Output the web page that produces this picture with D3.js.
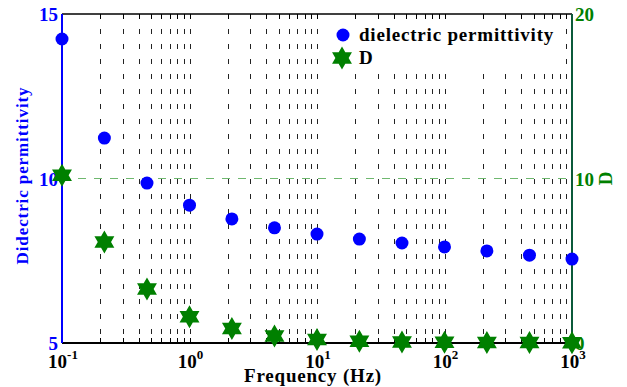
<!DOCTYPE html>
<html>
<head>
<meta charset="utf-8">
<script src="https://cdn.jsdelivr.net/npm/d3@7"></script>
<style>
  body { margin: 0; background: #fff; }
</style>
</head>
<body>
<div id="chart"></div>
<script>
// data
const freq = [0.1, 0.215, 0.464, 1, 2.15, 4.64, 10, 21.5, 46.4, 100, 215, 464, 1000];
const permittivity = [14.24, 11.23, 9.86, 9.19, 8.77, 8.5, 8.31, 8.16, 8.04, 7.92, 7.8, 7.67, 7.55];
const dValues = [10.2, 6.14, 3.28, 1.6, 0.88, 0.43, 0.22, 0.1, 0.06, 0.04, 0.03, 0.03, 0.02];
const xTickExps = [-1, 0, 1, 2, 3];
const leftTicks = [5, 10, 15];
const rightTicks = [0, 10, 20];

const width = 627, height = 387;
const margin = { top: 14, right: 55, bottom: 44, left: 62 };
const innerW = width - margin.left - margin.right;
const innerH = height - margin.top - margin.bottom;

const blue = "#0000ff", green = "#008000";

const svg = d3.select("#chart").append("svg")
  .attr("width", width)
  .attr("height", height)
  .attr("font-family", "'Liberation Serif', 'Times New Roman', serif")
  .attr("font-weight", "bold");

const g = svg.append("g")
  .attr("transform", `translate(${margin.left}, ${margin.top})`);

// scales
const x = d3.scaleLog().domain([0.1, 1000]).range([0, innerW]);
const yLeft = d3.scaleLinear().domain([5, 15]).range([innerH, 0]);
const yRight = d3.scaleLinear().domain([0, 20]).range([innerH, 0]);

// minor/major positions on log axis
const gridVals = [];
for (let e = -1; e < 3; e++) {
  for (let m = 1; m <= 9; m++) {
    const v = m * Math.pow(10, e);
    if (v > 0.1) gridVals.push(v);
  }
}

// vertical dashed grid
g.append("g").selectAll("line")
  .data(gridVals)
  .join("line")
  .attr("x1", d => Math.round(x(d)) + 0.5)
  .attr("x2", d => Math.round(x(d)) + 0.5)
  .attr("y1", 0)
  .attr("y2", innerH)
  .attr("stroke", "#222")
  .attr("stroke-width", 1)
  .attr("stroke-dasharray", "5,10");

// horizontal dashed grid at D = 10
g.append("line")
  .attr("x1", 0).attr("x2", innerW)
  .attr("y1", yRight(10)).attr("y2", yRight(10))
  .attr("stroke", "#6fb86f")
  .attr("stroke-width", 1.2)
  .attr("stroke-dasharray", "8,8");

// inward ticks on top and bottom
g.append("g").selectAll("line")
  .data(gridVals)
  .join("line")
  .attr("x1", d => Math.round(x(d)) + 0.5)
  .attr("x2", d => Math.round(x(d)) + 0.5)
  .attr("y1", innerH)
  .attr("y2", innerH - 5)
  .attr("stroke", "#000");
g.append("g").selectAll("line")
  .data(gridVals)
  .join("line")
  .attr("x1", d => Math.round(x(d)) + 0.5)
  .attr("x2", d => Math.round(x(d)) + 0.5)
  .attr("y1", 0)
  .attr("y2", 5)
  .attr("stroke", "#000");

// legend box (covers grid)
const legend = g.append("g").attr("transform", "translate(268, 5)");
legend.append("rect")
  .attr("width", 233).attr("height", 53)
  .attr("fill", "#fff");

// frame
g.append("line").attr("x1", 0).attr("x2", innerW).attr("y1", 0).attr("y2", 0)
  .attr("stroke", "#000").attr("stroke-width", 1.5);
g.append("line").attr("x1", 0).attr("x2", innerW).attr("y1", innerH).attr("y2", innerH)
  .attr("stroke", "#000").attr("stroke-width", 2);
g.append("line").attr("x1", 0).attr("x2", 0).attr("y1", 0).attr("y2", innerH)
  .attr("stroke", blue).attr("stroke-width", 2);
g.append("line").attr("x1", innerW).attr("x2", innerW).attr("y1", 0).attr("y2", innerH)
  .attr("stroke", "#0b5a3a").attr("stroke-width", 2);

// left tick labels
g.append("g").selectAll("text")
  .data(leftTicks)
  .join("text")
  .attr("x", -4)
  .attr("y", d => yLeft(d) + 7)
  .attr("text-anchor", "end")
  .attr("font-size", 19)
  .attr("fill", blue)
  .text(d => d);

// right tick labels
g.append("g").selectAll("text")
  .data(rightTicks)
  .join("text")
  .attr("x", innerW + 3)
  .attr("y", d => yRight(d) + 7)
  .attr("text-anchor", "start")
  .attr("font-size", 19)
  .attr("fill", green)
  .text(d => d);

// bottom tick labels 10^n
const xl = g.append("g").selectAll("text")
  .data(xTickExps)
  .join("text")
  .attr("x", d => x(Math.pow(10, d)) + 1)
  .attr("y", innerH + 25)
  .attr("text-anchor", "middle")
  .attr("font-size", 19)
  .attr("fill", "#000");
xl.append("tspan").text("10");
xl.append("tspan")
  .attr("dy", -9)
  .attr("font-size", 13)
  .text(d => d);

// axis labels
g.append("text")
  .attr("x", innerW / 2 - 4)
  .attr("y", innerH + 39)
  .attr("text-anchor", "middle")
  .attr("font-size", 19)
  .attr("letter-spacing", 0.8)
  .attr("fill", "#000")
  .text("Frequency (Hz)");

g.append("text")
  .attr("transform", `translate(${-34}, ${yLeft(10) - 3}) rotate(-90)`)
  .attr("text-anchor", "middle")
  .attr("font-size", 17)
  .attr("letter-spacing", 0.9)
  .attr("fill", blue)
  .text("Didectric permittivity");

g.append("text")
  .attr("transform", `translate(${innerW + 40}, ${yRight(10)}) rotate(-90)`)
  .attr("text-anchor", "middle")
  .attr("font-size", 19)
  .attr("fill", green)
  .text("D");

// hexagram marker
function hexagram(R) {
  const r = R / Math.sqrt(3);
  const pts = [];
  for (let i = 0; i < 12; i++) {
    const a = -Math.PI / 2 + i * Math.PI / 6;
    const rad = i % 2 === 0 ? R : r;
    pts.push([rad * Math.cos(a), rad * Math.sin(a)]);
  }
  return "M" + pts.map(p => p.join(",")).join("L") + "Z";
}

// permittivity dots
g.append("g").selectAll("circle")
  .data(freq)
  .join("circle")
  .attr("cx", d => x(d))
  .attr("cy", (d, i) => yLeft(permittivity[i]))
  .attr("r", 6.5)
  .attr("fill", blue);

// D stars
g.append("g").selectAll("path")
  .data(freq)
  .join("path")
  .attr("d", hexagram(11.5))
  .attr("transform", (d, i) => `translate(${x(d)}, ${yRight(dValues[i])})`)
  .attr("fill", green);

// legend contents
legend.append("circle")
  .attr("cx", 13).attr("cy", 16).attr("r", 6.5)
  .attr("fill", blue);
legend.append("text")
  .attr("x", 29).attr("y", 22)
  .attr("font-size", 19)
  .attr("letter-spacing", 0.8)
  .attr("fill", "#000")
  .text("dielectric permittivity");
legend.append("path")
  .attr("d", hexagram(11.5))
  .attr("transform", "translate(12, 39)")
  .attr("fill", green);
legend.append("text")
  .attr("x", 29).attr("y", 45)
  .attr("font-size", 19)
  .attr("fill", "#000")
  .text("D");
</script>
</body>
</html>
